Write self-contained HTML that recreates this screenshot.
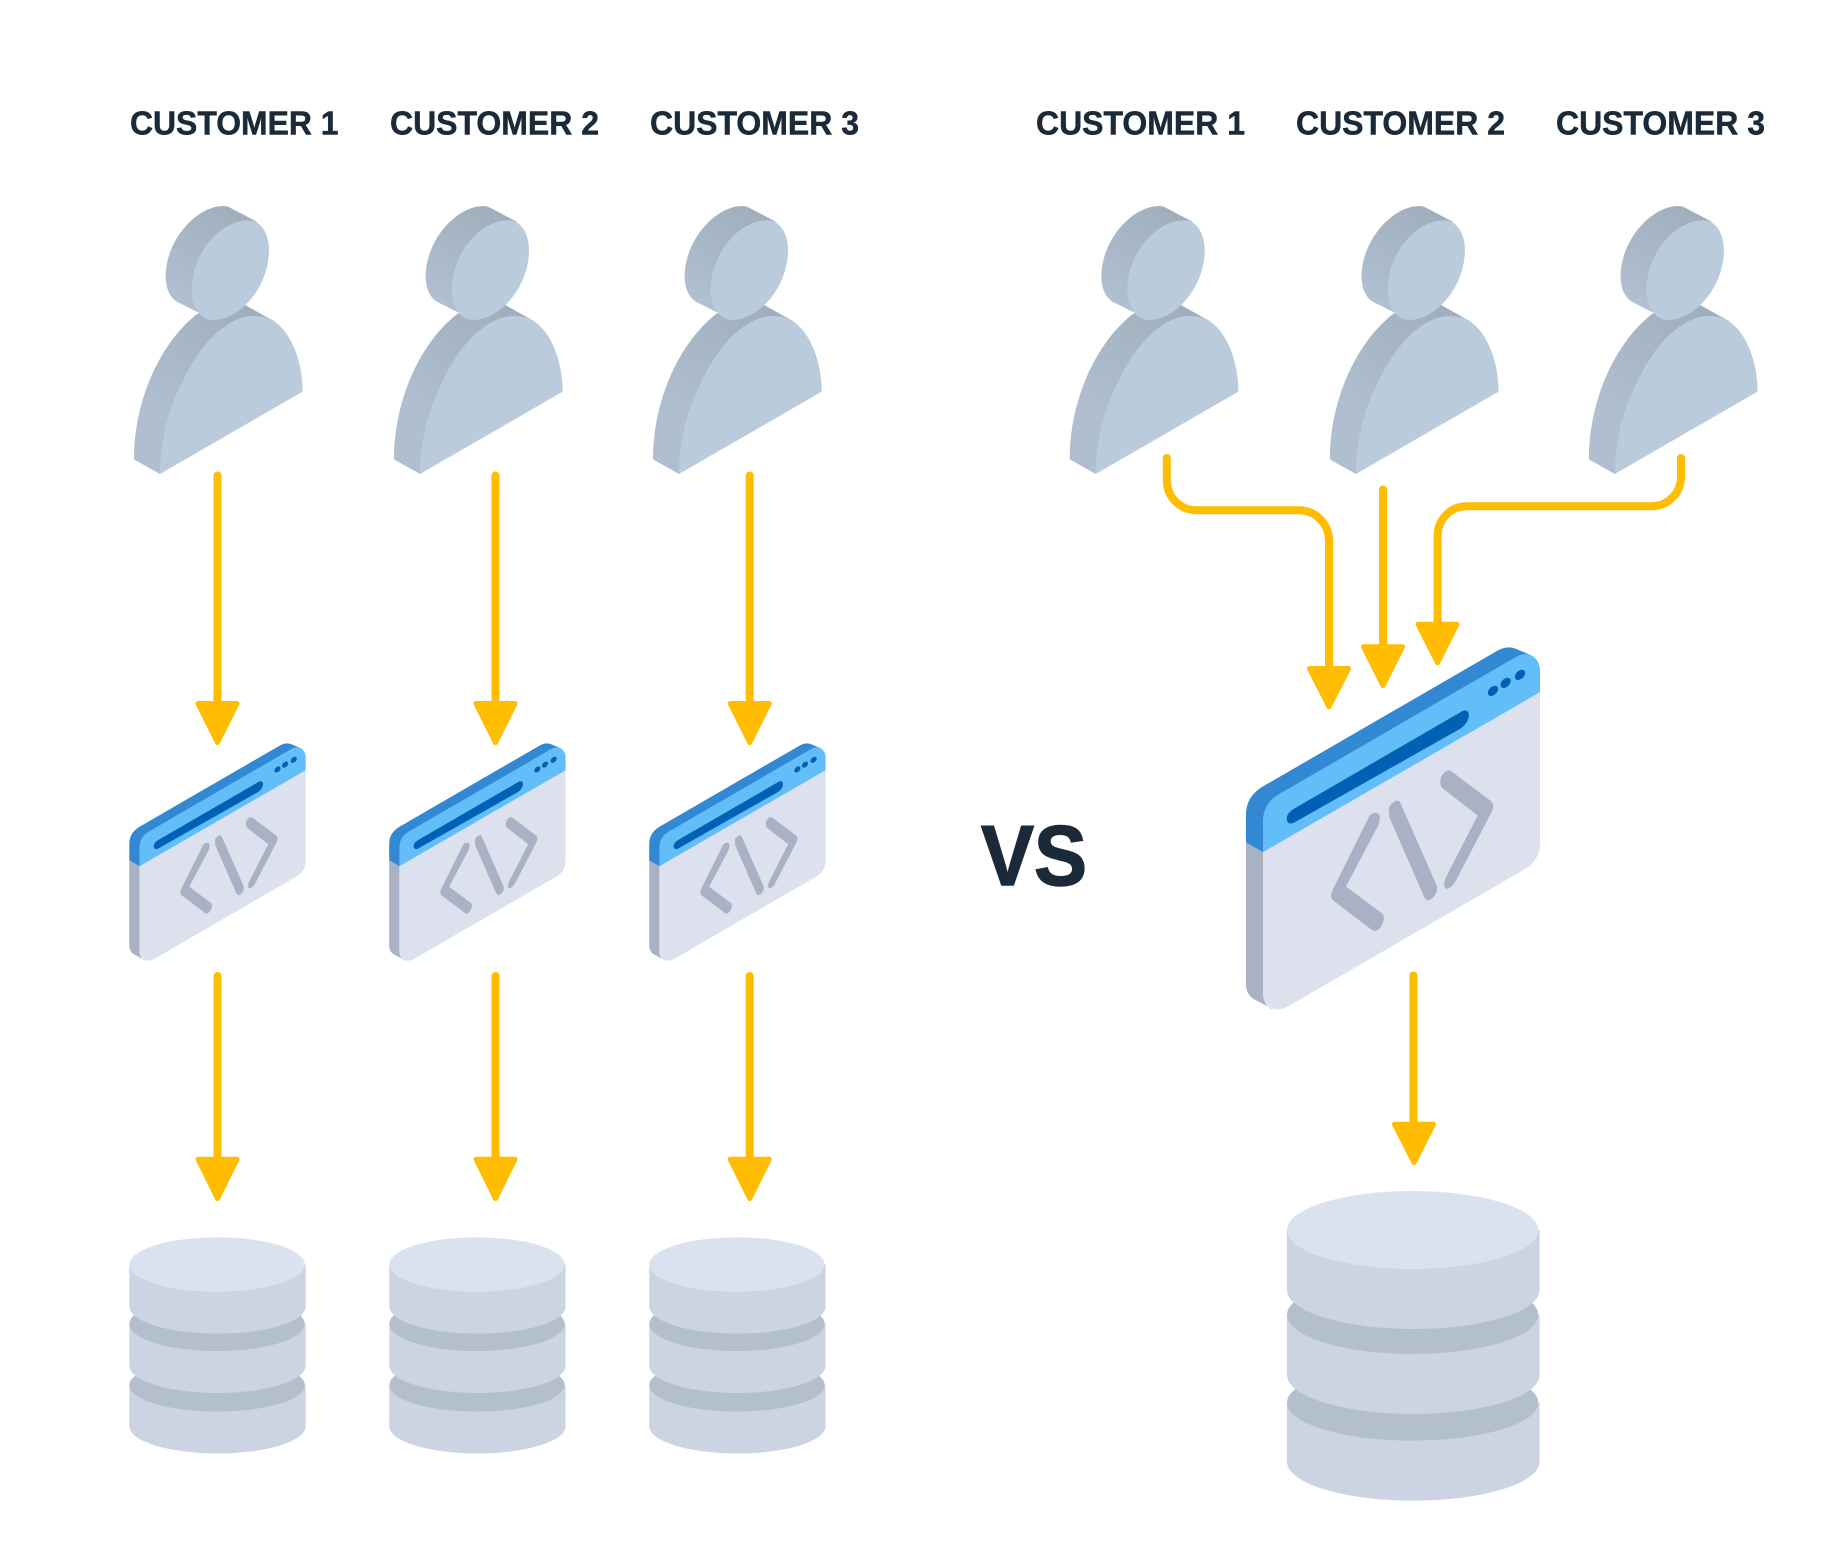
<!DOCTYPE html>
<html lang="en">
<head>
<meta charset="utf-8">
<title>Customers comparison</title>
<style>
html,body{margin:0;padding:0;background:#fff}
svg{display:block}
text{font-family:"Liberation Sans",sans-serif;font-weight:700;fill:#1b2a38;stroke:#1b2a38}
</style>
</head>
<body>
<svg width="1825" height="1566" viewBox="0 0 1825 1566" xmlns="http://www.w3.org/2000/svg">
<defs>
<linearGradient id="sideB" gradientUnits="userSpaceOnUse" x1="430" y1="672" x2="180" y2="1000">
<stop offset="0" stop-color="#a0aebc"/><stop offset="1" stop-color="#afbfd0"/>
</linearGradient>
<linearGradient id="sideH" gradientUnits="userSpaceOnUse" x1="400" y1="380" x2="230" y2="660">
<stop offset="0" stop-color="#a0aebc"/><stop offset="1" stop-color="#b0c0d1"/>
</linearGradient>
<g id="person">
<path fill="url(#sideB)" d="M430,672 L525,725 L300,1000 L180,1182 L102,1138 C102,960 180,790 290,703 C340,680 390,672 430,672Z"/>
<path fill="#bacbdc" d="M460,708 C490,708 510,715 527,727 C578,765 608,850 608,935 L180,1182 C180,1130 190,1010 250,900 C300,790 385,708 460,708Z"/>
<path fill="url(#sideH)" d="M370,378 C378,378 385,380 392,384 L470,425 L340,720 L230,665 C210,652 197,625 197,590 C197,480 290,378 370,378Z"/>
<path fill="#bacbdc" d="M445,421 C455,421 463,423 470,427 C495,443 507,475 507,510 C507,620 420,720 340,720 C300,720 275,680 275,630 C275,520 360,421 445,421Z"/>
</g>
<g id="win">
<path fill="#a9b2c5" d="M48,636 L99,665 L99,1090 C99,1115 115,1135 130,1137 L70,1105 C55,1095 48,1080 48,1060 Z"/>
<path fill="#dce1ed" d="M99,665 L930,185 L930,640 C930,675 910,700 885,716 L170,1130 C140,1148 99,1130 99,1090 Z"/>
<path fill="#3388d4" d="M48,636 L48,555 C48,515 65,490 95,470 L800,62 C820,50 840,47 860,56 L905,75 L500,400 L99,665 Z"/>
<path fill="#62bdf9" d="M99,665 L99,575 C99,535 115,510 145,492 L860,78 C880,68 900,68 912,80 C925,92 930,105 930,120 L930,185 Z"/>
<path fill="#0060b4" d="M195,533 L695,243 C710,235 720,245 716,260 C712,275 705,285 690,295 L195,575 C175,587 165,570 173,553 C178,545 185,539 195,533 Z"/>
<ellipse cx="789" cy="181" rx="18" ry="12" fill="#0060b4" transform="rotate(-45 789 181)"/>
<ellipse cx="827" cy="157" rx="18" ry="12" fill="#0060b4" transform="rotate(-45 827 157)"/>
<ellipse cx="870" cy="133" rx="18" ry="12" fill="#0060b4" transform="rotate(-45 870 133)"/>
<path fill="#a9b2c5" d="M418,557 C430,543 448,543 450,560 C450,570 448,578 443,588 L348,768 L455,848 C465,855 463,870 455,885 C447,898 437,905 428,900 L312,812 C300,803 302,790 308,778 Z"/>
<path fill="#a9b2c5" d="M476,535 C480,520 500,502 510,515 L620,765 C625,780 615,800 600,808 C590,812 585,805 582,798 L478,560 Z"/>
<path fill="#a9b2c5" d="M632,445 C635,430 652,412 665,423 L783,512 C792,520 790,535 783,548 L678,750 C670,765 655,780 645,773 C640,765 642,755 648,740 L743,555 L640,475 C630,468 630,455 632,445 Z"/>
</g>
<g id="db">
<rect x="50" y="908" width="758" height="177" fill="#ccd4e3"/>
<ellipse cx="429" cy="1085" rx="379" ry="117" fill="#ccd4e3"/>
<ellipse cx="427" cy="908" rx="377" ry="114" fill="#b4bfce"/>
<rect x="50" y="645" width="758" height="180" fill="#ccd4e3"/>
<ellipse cx="429" cy="825" rx="379" ry="117" fill="#ccd4e3"/>
<ellipse cx="427" cy="645" rx="377" ry="117" fill="#b4bfce"/>
<rect x="50" y="390" width="758" height="180" fill="#ccd4e3"/>
<ellipse cx="429" cy="570" rx="379" ry="117" fill="#ccd4e3"/>
<ellipse cx="427" cy="390" rx="377" ry="117" fill="#dae2ef"/>
</g>
</defs>

<!-- labels -->
<g font-size="33" stroke-width=".5">
<text x="130" y="134.5" textLength="208.5" lengthAdjust="spacingAndGlyphs">CUSTOMER 1</text>
<text x="390" y="134.5" textLength="209" lengthAdjust="spacingAndGlyphs">CUSTOMER 2</text>
<text x="650" y="134.5" textLength="209" lengthAdjust="spacingAndGlyphs">CUSTOMER 3</text>
<text x="1036" y="134.5" textLength="209" lengthAdjust="spacingAndGlyphs">CUSTOMER 1</text>
<text x="1296" y="134.5" textLength="209" lengthAdjust="spacingAndGlyphs">CUSTOMER 2</text>
<text x="1556" y="134.5" textLength="209" lengthAdjust="spacingAndGlyphs">CUSTOMER 3</text>
</g>
<text x="981" y="885" font-size="85" stroke-width="1.5" textLength="106" lengthAdjust="spacingAndGlyphs">VS</text>

<!-- people -->
<use href="#person" transform="translate(100,80) scale(.33333)"/>
<use href="#person" transform="translate(360,80) scale(.33333)"/>
<use href="#person" transform="translate(619,80) scale(.33333)"/>
<use href="#person" transform="translate(1035.7,80) scale(.33333)"/>
<use href="#person" transform="translate(1295.9,80) scale(.33333)"/>
<use href="#person" transform="translate(1554.9,80) scale(.33333)"/>

<!-- arrows -->
<g fill="none" stroke="#ffbc00" stroke-width="8" stroke-linecap="round" stroke-linejoin="round">
<path d="M217.5,475.5V705"/><path d="M495.5,475.5V705"/><path d="M749.7,475.5V705"/>
<path d="M217.5,976V1160"/><path d="M495.5,976V1160"/><path d="M749.7,976V1160"/>
<path d="M1166.8,458V480C1166.8,497 1180,510.3 1197,510.3H1298.6C1316,510.3 1329,524 1329,541V670"/>
<path d="M1383,489.5V648"/>
<path d="M1681,458V476.7C1681,493 1668,506.3 1651,506.3H1467C1450,506.3 1437.6,520 1437.6,536V625"/>
<path d="M1413.5,975.5V1126"/>
</g>
<g fill="#ffbc00" stroke="#ffbc00" stroke-width="5" stroke-linejoin="round">
<path d="M198,703.5H237L217.5,742.5Z"/>
<path d="M476,703.5H515L495.5,742.5Z"/>
<path d="M730.2,703.5H769.2L749.7,742.5Z"/>
<path d="M198,1159.2H237L217.5,1198.5Z"/>
<path d="M476,1159.2H515L495.5,1198.5Z"/>
<path d="M730.2,1159.2H769.2L749.7,1198.5Z"/>
<path d="M1309.5,668.5H1348.5L1329,706.8Z"/>
<path d="M1363.5,646.8H1402.5L1383,685.5Z"/>
<path d="M1418,624.2H1457L1437.5,662.8Z"/>
<path d="M1394.5,1124.2H1433.5L1414,1162.5Z"/>
</g>

<!-- windows -->
<use href="#win" transform="translate(119.7,733.2) scale(.2)"/>
<use href="#win" transform="translate(379.6,733.2) scale(.2)"/>
<use href="#win" transform="translate(639.6,733.2) scale(.2)"/>
<use href="#win" transform="translate(1230,630.5) scale(.33333)"/>

<!-- databases -->
<use href="#db" transform="translate(117.7,1173.8) scale(.2327)"/>
<use href="#db" transform="translate(377.6,1173.8) scale(.2327)"/>
<use href="#db" transform="translate(637.6,1173.8) scale(.2327)"/>
<use href="#db" transform="translate(1270.3,1100) scale(.33333)"/>
</svg>
</body>
</html>
